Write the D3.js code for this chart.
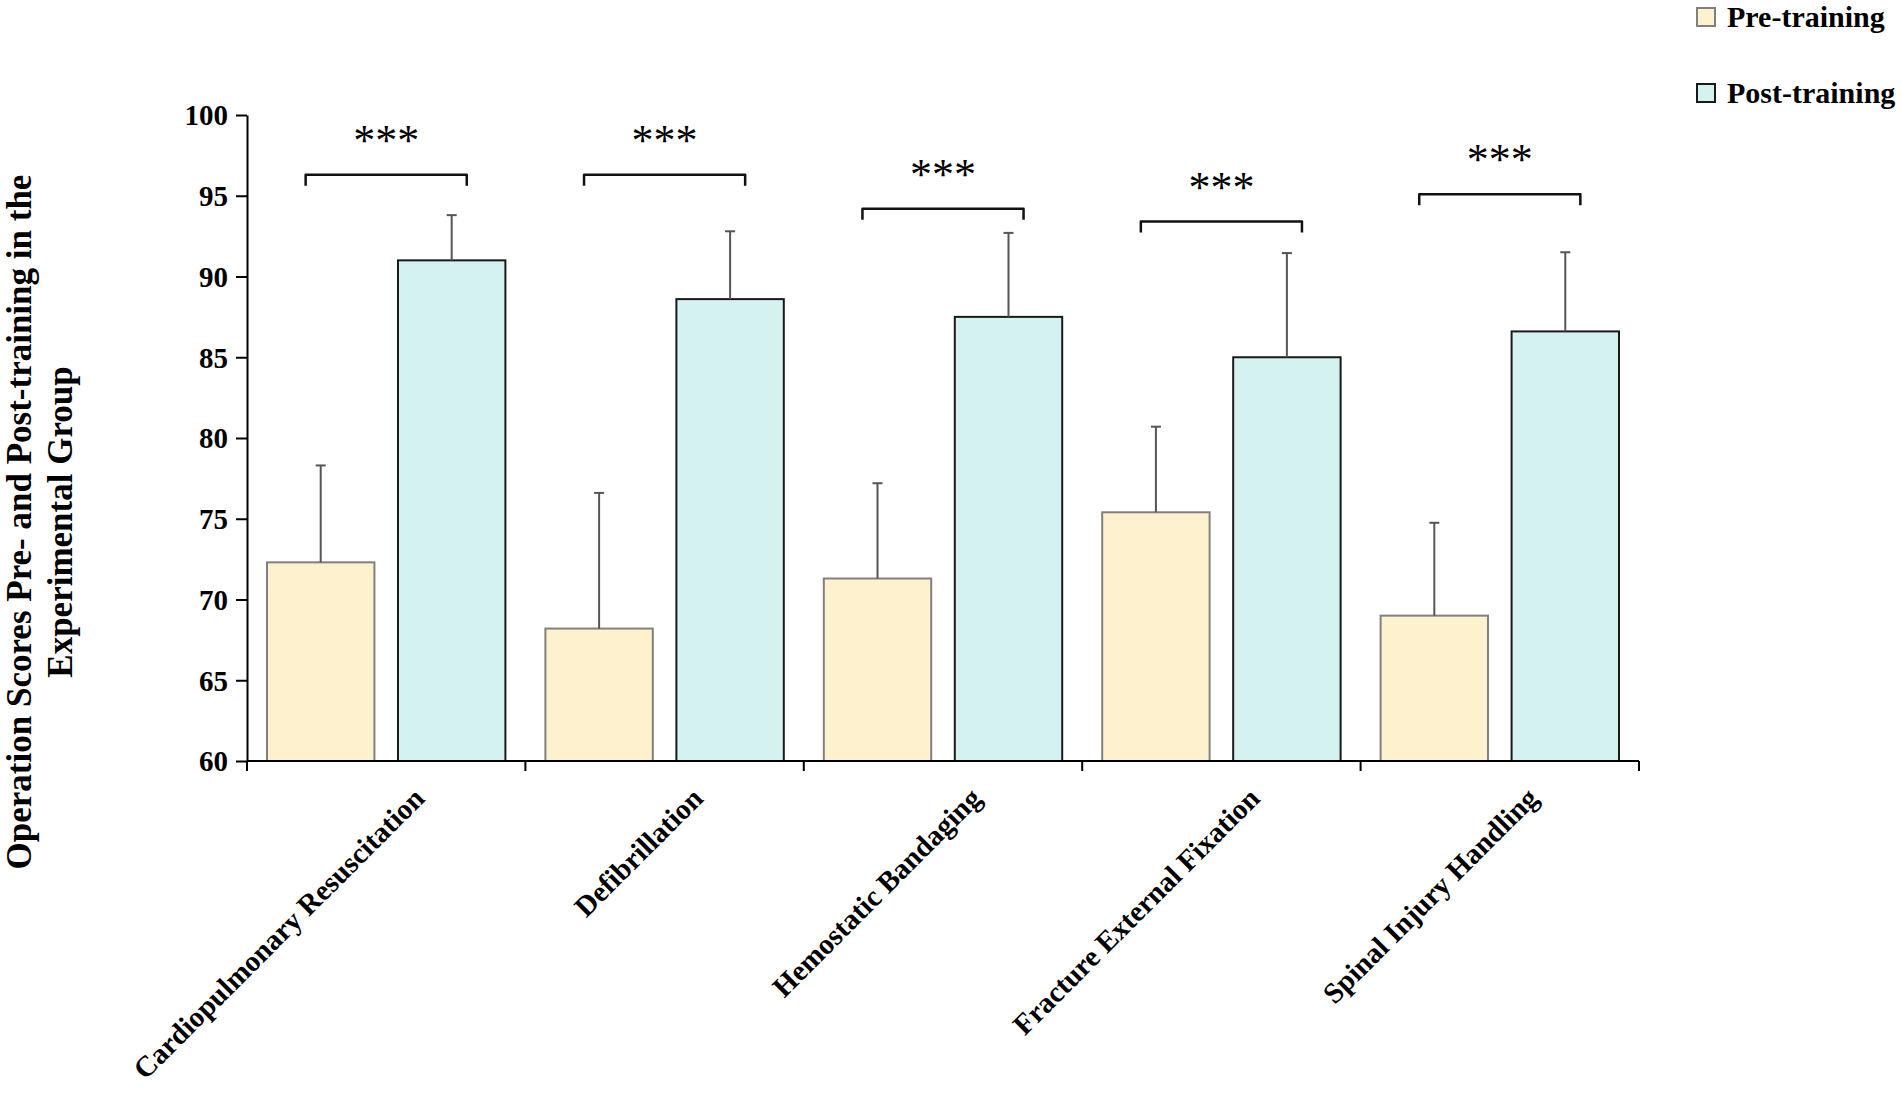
<!DOCTYPE html>
<html lang="en">

<head>
    <meta charset="UTF-8">
    <title>Operation Scores Pre- and Post-training</title>
    <script src="https://d3js.org/d3.v7.min.js"></script>
    <style>
        body {
            margin: 0;
            background: #fff;
        }

        svg text {
            font-family: "Liberation Serif", "Times New Roman", serif;
            font-weight: bold;
            fill: #000;
        }

        svg text.stars {
            font-weight: normal;
        }
    </style>
</head>

<body>
    <svg width="1902" height="1098"></svg>

    <script>
        // data
        const categories = ["Cardiopulmonary Resuscitation", "Defibrillation", "Hemostatic Bandaging",
            "Fracture External Fixation", "Spinal Injury Handling"];
        const preMean = [72.3, 68.2, 71.3, 75.4, 69.0];
        const preSD = [6.0, 8.4, 5.9, 5.3, 5.75];
        const postMean = [91.0, 88.6, 87.5, 85.0, 86.6];
        const postSD = [2.8, 4.2, 5.2, 6.45, 4.9];
        const bracketLevel = [96.3, 96.3, 94.2, 93.4, 95.1];
        const sigLabels = ["***", "***", "***", "***", "***"];
        const groups = ["pre", "post"];
        const groupNames = ["Pre-training", "Post-training"];
        const yTicks = [60, 65, 70, 75, 80, 85, 90, 95, 100];

        const fills = { pre: "#fef1cd", post: "#d4f2f0" };
        const strokes = { pre: "#808080", post: "#1a1a1a" };

        const svg = d3.select("svg");

        const y = d3.scaleLinear().domain([60, 100]).range([761, 115]);
        const x = d3.scaleBand().domain(categories).range([247, 1639]);
        const x1 = d3.scaleBand().domain(groups)
            .range([20, x.bandwidth() - 20])
            .paddingInner(0.18);

        const rows = categories.map((c, i) => ({
            cat: c,
            bars: [
                { g: "pre", mean: preMean[i], sd: preSD[i] },
                { g: "post", mean: postMean[i], sd: postSD[i] }
            ],
            level: bracketLevel[i],
            sig: sigLabels[i]
        }));

        // bars
        const cat = svg.append("g").selectAll("g")
            .data(rows)
            .enter().append("g")
            .attr("transform", d => `translate(${x(d.cat)},0)`);

        cat.selectAll("rect")
            .data(d => d.bars)
            .enter().append("rect")
            .attr("x", d => x1(d.g))
            .attr("y", d => y(d.mean))
            .attr("width", x1.bandwidth())
            .attr("height", d => y(60) - y(d.mean))
            .attr("fill", d => fills[d.g])
            .attr("stroke", d => strokes[d.g])
            .attr("stroke-width", 2);

        // error bars (upper only)
        const eb = cat.selectAll("g.err")
            .data(d => d.bars)
            .enter().append("g").attr("class", "err")
            .attr("stroke", "#555")
            .attr("stroke-width", 2);
        eb.append("line")
            .attr("x1", d => x1(d.g) + x1.bandwidth() / 2)
            .attr("x2", d => x1(d.g) + x1.bandwidth() / 2)
            .attr("y1", d => y(d.mean))
            .attr("y2", d => y(d.mean + d.sd));
        eb.append("line")
            .attr("x1", d => x1(d.g) + x1.bandwidth() / 2 - 5)
            .attr("x2", d => x1(d.g) + x1.bandwidth() / 2 + 5)
            .attr("y1", d => y(d.mean + d.sd))
            .attr("y2", d => y(d.mean + d.sd));

        // significance brackets
        const half = x1.bandwidth() * 0.75;
        cat.append("path")
            .attr("d", d => {
                const c = x.bandwidth() / 2, top = y(d.level);
                return `M${c - half},${top + 11}V${top}H${c + half}V${top + 11}`;
            })
            .attr("fill", "none")
            .attr("stroke", "#111")
            .attr("stroke-width", 2.5)
            .attr("stroke-linejoin", "round");

        cat.append("text")
            .attr("class", "stars")
            .attr("x", x.bandwidth() / 2)
            .attr("y", d => y(d.level) - 20)
            .attr("text-anchor", "middle")
            .style("font-size", "44px")
            .text(d => d.sig);

        // y axis
        const yAxis = svg.append("g")
            .attr("transform", "translate(247,0)")
            .call(d3.axisLeft(y).tickValues(yTicks).tickSize(11).tickSizeOuter(0).tickPadding(8));
        yAxis.selectAll("text").style("font-size", "29px").attr("dy", "0.34em");
        yAxis.selectAll("line, path").attr("stroke", "#000").attr("stroke-width", 2);

        // x axis with ticks at category boundaries
        const xg = svg.append("g");
        xg.append("line")
            .attr("x1", x.range()[0]).attr("x2", x.range()[1])
            .attr("y1", y(60)).attr("y2", y(60))
            .attr("stroke", "#000").attr("stroke-width", 2);
        const bounds = categories.map(c => x(c)).concat([x.range()[1]]);
        xg.selectAll("line.tick")
            .data(bounds)
            .enter().append("line").attr("class", "tick")
            .attr("x1", d => d).attr("x2", d => d)
            .attr("y1", y(60)).attr("y2", y(60) + 10)
            .attr("stroke", "#000").attr("stroke-width", 2);

        xg.selectAll("text")
            .data(categories)
            .enter().append("text")
            .attr("text-anchor", "end")
            .attr("transform", d => `translate(${x(d) + x.bandwidth() / 2 + 40},800) rotate(-45)`)
            .style("font-size", "29px")
            .text(d => d);

        // y title, two lines
        const title = svg.append("text")
            .attr("text-anchor", "middle")
            .attr("transform", "translate(31,522) rotate(-90)")
            .style("font-size", "35px");
        title.append("tspan").attr("x", 0).attr("dy", 0).text("Operation Scores Pre- and Post-training in the");
        title.append("tspan").attr("x", 0).attr("dy", 41).text("Experimental Group");

        // legend
        const legend = svg.append("g").selectAll("g")
            .data(groups)
            .enter().append("g")
            .attr("transform", (d, i) => `translate(1697,${8 + i * 76})`);
        legend.append("rect")
            .attr("width", 18).attr("height", 18)
            .attr("fill", d => fills[d])
            .attr("stroke", d => strokes[d])
            .attr("stroke-width", 2);
        legend.append("text")
            .attr("x", 30).attr("y", 19)
            .style("font-size", "30px")
            .text((d, i) => groupNames[i]);
    </script>
</body>

</html>
